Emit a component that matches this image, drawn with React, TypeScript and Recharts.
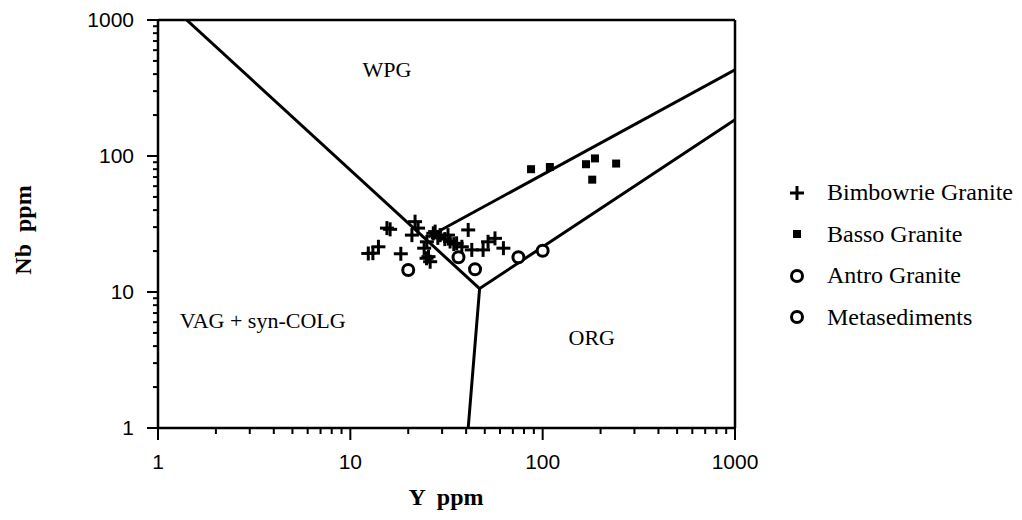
import React from 'react';
import { ScatterChart, Scatter, XAxis, YAxis, ReferenceLine } from 'recharts';

const majorTicks = [1, 10, 100, 1000];
const minorTicks = [2, 3, 4, 5, 6, 7, 8, 9, 20, 30, 40, 50, 60, 70, 80, 90, 200, 300, 400, 500, 600, 700, 800, 900];
const allTicks = [...majorTicks, ...minorTicks].sort((a, b) => a - b);

const bimbowrie = [
  { x: 12.4, y: 19.2 }, { x: 13.1, y: 19.3 }, { x: 14, y: 21.5 }, { x: 15.5, y: 29.5 },
  { x: 16.1, y: 28.9 }, { x: 18.3, y: 19.1 }, { x: 20.9, y: 26.2 }, { x: 21.7, y: 32.9 },
  { x: 22.5, y: 29.5 }, { x: 24.2, y: 21 }, { x: 24.9, y: 17.7 }, { x: 25, y: 23.4 },
  { x: 25.5, y: 18.2 }, { x: 26, y: 16.7 }, { x: 27, y: 27 }, { x: 27.6, y: 27.8 },
  { x: 28.5, y: 25 }, { x: 29.3, y: 26.2 }, { x: 31, y: 24.5 }, { x: 32.2, y: 26.2 },
  { x: 33, y: 23.5 }, { x: 34.5, y: 22.5 }, { x: 35.7, y: 22.8 }, { x: 38, y: 21.5 },
  { x: 41, y: 28.6 }, { x: 42.8, y: 20.4 }, { x: 49, y: 20.4 }, { x: 52, y: 23.4 },
  { x: 56.5, y: 24.8 }, { x: 62.5, y: 21 },
];
const basso = [
  { x: 87, y: 80 }, { x: 109, y: 83 }, { x: 168, y: 87 }, { x: 187, y: 96 }, { x: 181, y: 67 }, { x: 241, y: 88 },
];
const antro = [{ x: 36.5, y: 18 }, { x: 74.8, y: 18 }, { x: 100, y: 20.1 }];
const metasediments = [{ x: 20, y: 14.5 }, { x: 44.5, y: 14.7 }];

// discrimination field boundaries
const wpgBoundary = [{ x: 1.41, y: 1000 }, { x: 47, y: 10.6 }];
const orgBoundary = [{ x: 41, y: 1 }, { x: 47, y: 10.6 }, { x: 1000, y: 185 }];
const wpgOrgBoundary = [{ x: 25.4, y: 25.4 }, { x: 1000, y: 430 }];

const fieldLabels = [
  { x: 15.5, y: 430, name: 'WPG' },
  { x: 3.5, y: 6.1, name: 'VAG + syn-COLG' },
  { x: 180, y: 4.6, name: 'ORG' },
];

const legendItems = ['Bimbowrie Granite', 'Basso Granite', 'Antro Granite', 'Metasediments'];

const serif = '"Liberation Serif", "Times New Roman", serif';
const sans = '"Liberation Sans", Arial, sans-serif';

const Cross = ({ cx, cy }: any) => (
  <g stroke="#000" strokeWidth={3}>
    <line x1={cx - 7} x2={cx + 7} y1={cy} y2={cy} />
    <line x1={cx} x2={cx} y1={cy - 7} y2={cy + 7} />
  </g>
);
const Square = ({ cx, cy }: any) => <rect x={cx - 4} y={cy - 4} width={8} height={8} fill="#000" />;
const Ring = ({ cx, cy }: any) => <circle cx={cx} cy={cy} r={5.5} fill="#fff" stroke="#000" strokeWidth={3} />;
const NoDot = () => <g />;
const FieldText = ({ cx, cy, payload }: any) => (
  <text x={cx} y={cy} dy={7} textAnchor="middle" fontFamily={serif} fontSize={22} fill="#000">
    {payload.name}
  </text>
);

const XTick = ({ x, y, payload }: any) => {
  const major = majorTicks.includes(payload.value);
  return (
    <g>
      <line x1={x} x2={x} y1={y} y2={y + (major ? 12 : 6)} stroke="#000" strokeWidth={2} />
      {major && (
        <text x={x} y={y + 41} textAnchor="middle" fontFamily={sans} fontSize={21} fill="#000">
          {payload.value}
        </text>
      )}
    </g>
  );
};

const YTick = ({ x, y, payload }: any) => {
  const major = majorTicks.includes(payload.value);
  return (
    <g>
      <line x1={x - (major ? 11 : 5)} x2={x} y1={y} y2={y} stroke="#000" strokeWidth={2} />
      {major && (
        <text x={x - 24} y={y + 7} textAnchor="end" fontFamily={sans} fontSize={21} fill="#000">
          {payload.value}
        </text>
      )}
    </g>
  );
};

const legendMarker = (i: number) => {
  if (i === 0) return <Cross cx={11} cy={11} />;
  if (i === 1) return <Square cx={11} cy={11} />;
  return <Ring cx={11} cy={11} />;
};

const boundaryStroke = { stroke: '#000', strokeWidth: 3 };

export default function App() {
  return (
    <div style={{ position: 'absolute', left: 0, top: 0, width: 1022, height: 520, background: '#fff', overflow: 'hidden' }}>
      <ScatterChart width={1022} height={520} margin={{ top: 20, right: 287, left: 0, bottom: 0 }}>
        <XAxis
          dataKey="x"
          type="number"
          scale="log"
          domain={[1, 1000]}
          ticks={allTicks}
          interval={0}
          tickSize={0}
          tickMargin={0}
          tickLine={false}
          tick={<XTick />}
          height={92}
          axisLine={{ stroke: '#000', strokeWidth: 2.5 }}
          allowDataOverflow
        />
        <YAxis
          dataKey="y"
          type="number"
          scale="log"
          domain={[1, 1000]}
          ticks={allTicks}
          interval={0}
          tickSize={0}
          tickMargin={0}
          tickLine={false}
          tick={<YTick />}
          width={158}
          axisLine={{ stroke: '#000', strokeWidth: 2.5 }}
          allowDataOverflow
        />
        <ReferenceLine y={1000} stroke="#000" strokeWidth={2.5} />
        <ReferenceLine x={1000} stroke="#000" strokeWidth={2.5} />
        <Scatter data={wpgBoundary} line={boundaryStroke} shape={<NoDot />} isAnimationActive={false} />
        <Scatter data={orgBoundary} line={boundaryStroke} shape={<NoDot />} isAnimationActive={false} />
        <Scatter data={wpgOrgBoundary} line={boundaryStroke} shape={<NoDot />} isAnimationActive={false} />
        <Scatter data={fieldLabels} shape={<FieldText />} isAnimationActive={false} />
        <Scatter name="Bimbowrie Granite" data={bimbowrie} shape={<Cross />} isAnimationActive={false} />
        <Scatter name="Basso Granite" data={basso} shape={<Square />} isAnimationActive={false} />
        <Scatter name="Antro Granite" data={antro} shape={<Ring />} isAnimationActive={false} />
        <Scatter name="Metasediments" data={metasediments} shape={<Ring />} isAnimationActive={false} />
      </ScatterChart>

      {/* axis titles */}
      <svg width={1022} height={520} style={{ position: 'absolute', left: 0, top: 0, pointerEvents: 'none' }}>
        <text
          x={446}
          y={505}
          textAnchor="middle"
          fontFamily={serif}
          fontSize={24}
          fontWeight="bold"
          style={{ whiteSpace: 'pre' }}
        >
          {'Y  ppm'}
        </text>
        <text
          transform="translate(31,230) rotate(-90)"
          textAnchor="middle"
          fontFamily={serif}
          fontSize={24}
          fontWeight="bold"
          style={{ whiteSpace: 'pre' }}
        >
          {'Nb  ppm'}
        </text>
      </svg>

      {/* legend */}
      <div style={{ position: 'absolute', left: 786, top: 172, fontFamily: serif, fontSize: 24, color: '#000', whiteSpace: 'nowrap' }}>
        {legendItems.map((name, i) => (
          <div key={name} style={{ display: 'flex', alignItems: 'center', height: 41.5 }}>
            <svg width={22} height={22} style={{ marginRight: 19 }}>
              {legendMarker(i)}
            </svg>
            <span>{name}</span>
          </div>
        ))}
      </div>
    </div>
  );
}
